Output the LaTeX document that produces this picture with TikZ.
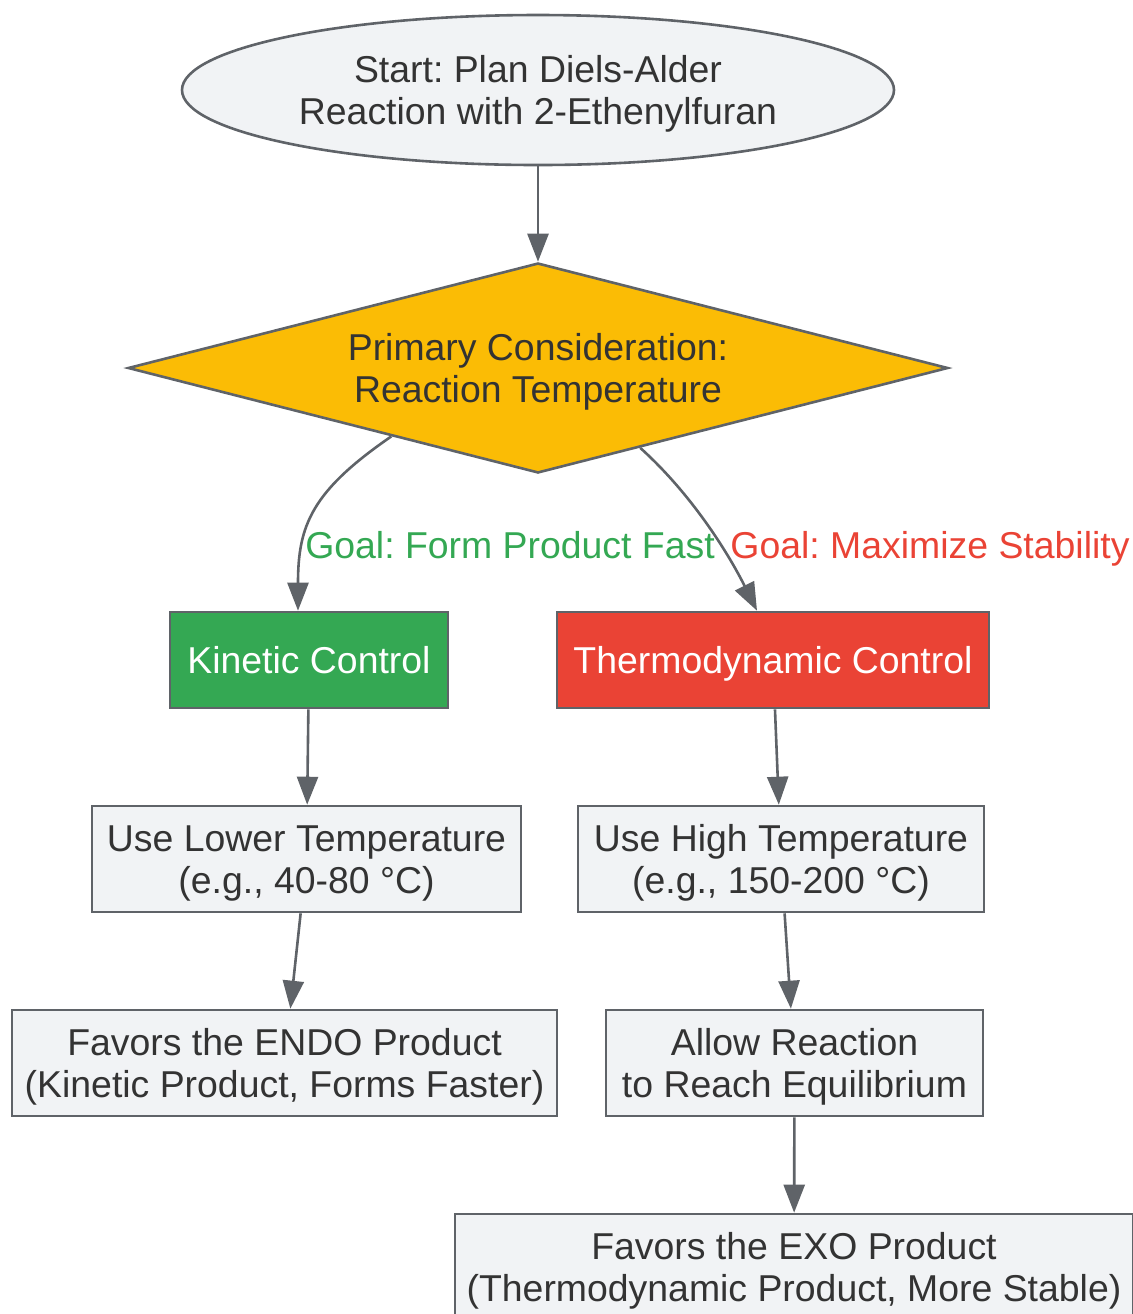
\documentclass[tikz,border=0pt]{standalone}
\usepackage{fontspec}
\setmainfont{Liberation Sans}
\usetikzlibrary{shapes.geometric, arrows.meta}
\definecolor{boxgray}{HTML}{F1F3F5}
\definecolor{linegray}{HTML}{5F6368}
\definecolor{kgreen}{HTML}{34A853}
\definecolor{tred}{HTML}{EA4335}
\definecolor{dyellow}{HTML}{FBBC05}
\definecolor{txt}{HTML}{333333}

\begin{document}
\begin{tikzpicture} [x = 0.5pt, y = -0.5pt,
  every node/.style = {font = \fontsize{18.7}{21}\selectfont\frenchspacing, align = center, text = txt, inner sep = 0pt,
    text height = 34.4pt, text depth = 0pt},
  single/.style = {text height = 13.4pt},
  box/.style = {draw = linegray, line width = 1.3pt, fill = boxgray, minimum height = 53pt},
  arr/.style = {draw = linegray, line width = 1.3pt, -{Triangle[length = 14pt, width = 10.5pt]}}]
\useasboundingbox (0,0) rectangle (1132,1314);
\node[box, ellipse, minimum width = 356pt, minimum height = 75pt] (s) at (538,90) {Start: Plan Diels-Alder\\Reaction with 2-Ethenylfuran};
\node[box, diamond, fill = dyellow, minimum width = 410pt, minimum height = 105pt, aspect = 3.9] (d) at (538,368) {Primary Consideration:\\Reaction Temperature};
\node[box, single, fill = kgreen, text = white, minimum width = 139pt, minimum height = 48pt] (k) at (309,660) {Kinetic Control};
\node[box, single, fill = tred, text = white, minimum width = 216pt, minimum height = 48pt] (t) at (773,660) {Thermodynamic Control};
\node[box, minimum width = 214.5pt] (lo) at (306.5,859) {Use Lower Temperature\\(e.g., 40-80 °C)};
\node[box, minimum width = 203pt] (hi) at (781,859) {Use High Temperature\\(e.g., 150-200 °C)};
\node[box, minimum width = 272.5pt] (endo) at (284.5,1063) {Favors the ENDO Product\\(Kinetic Product, Forms Faster)};
\node[box, minimum width = 188.5pt] (eq) at (794.5,1063) {Allow Reaction\\to Reach Equilibrium};
\node[box, minimum width = 339pt] (exo) at (794,1267) {Favors the EXO Product\\(Thermodynamic Product, More Stable)};
\node[single, text = kgreen] (gk) at (510,545) {Goal: Form Product Fast};
\node[single, text = tred] (gt) at (930,545) {Goal: Maximize Stability};
\draw[arr] (s) -- (d);
\draw[arr] (d.205) .. controls +(-80,55) and +(0,-85) .. ([xshift = -5.5pt]k.north);
\draw[arr] (d.322) .. controls +(50,45) and +(-30,-60) .. ([xshift = -8pt]t.north);
\draw[arr] (k) -- (lo);
\draw[arr] (t) -- (hi);
\draw[arr] (lo) -- (endo);
\draw[arr] (hi) -- (eq);
\draw[arr] (eq) -- (exo);
\end{tikzpicture}
\end{document}
